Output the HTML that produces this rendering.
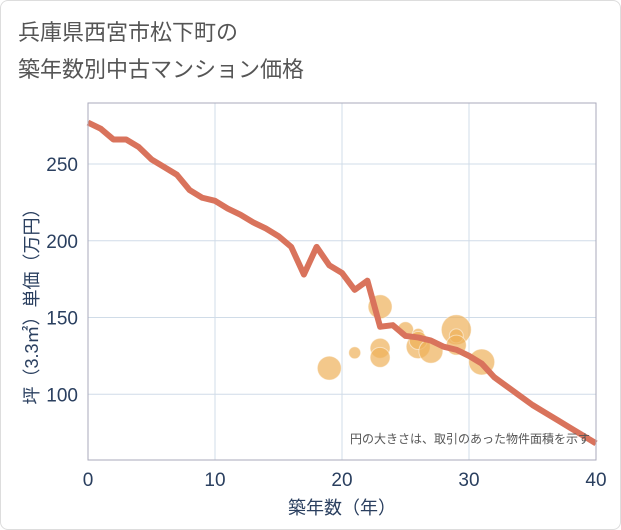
<!DOCTYPE html>
<html><head><meta charset="utf-8"><style>
body{margin:0;background:#fff;}
.card{position:absolute;left:0;top:0;width:619px;height:528px;border:1px solid #ddd;border-radius:8px;background:#fff;}
svg{position:absolute;left:0;top:0;font-family:"Liberation Sans","Noto Sans CJK JP",sans-serif;}
</style></head><body>
<div class="card"></div>
<svg id="c" width="621" height="530">
<text x="18" y="40" font-size="22" fill="#555">兵庫県西宮市松下町の</text>
<text x="18" y="77" font-size="22" fill="#555">築年数別中古マンション価格</text>
<g id="grid"></g><g id="bub"></g><g id="ln"></g><g id="ax"></g>
<rect x="88" y="103" width="508" height="357" fill="none" stroke="#aab" stroke-width="1"/>
<text x="590" y="443" font-size="12" fill="#555" text-anchor="end">円の大きさは、取引のあった物件面積を示す</text>
<text x="342" y="514" font-size="18" fill="#2a3f5f" text-anchor="middle">築年数（年）</text>
<text transform="translate(38,302) rotate(-90)" font-size="18" fill="#2a3f5f" text-anchor="middle">坪（3.3㎡）単価（万円）</text>
</svg>
<script>
const xTicks=[0,10,20,30,40];
const yTicks=[100,150,200,250];
const lineYears=[0,1,2,3,4,5,6,7,8,9,10,11,12,13,14,15,16,17,18,19,20,21,22,23,24,25,26,27,28,29,30,31,32,33,34,35,36,37,38,39,40];
const linePrices=[277,273,266,266,261,253,248,243,233,228,226,221,217,212,208,203,196,178,196,184,179,168,174,144,145,138,137,135,131,129,125,120,111,105,99,93,88,83,78,73,68];
const bubbleYears=[19,21,23,23,23,25,26,26,26,27,29,29,29,31];
const bubblePrices=[117,127,157,130,124,142,139,131,135,128,142,138,132,121];
const bubbleSizes=[12,6,12,10,10,8,6,12,9,12,15,7,10,13];
const X=v=>88+v*12.7, Y=v=>164+(250-v)*1.535;
const NS='http://www.w3.org/2000/svg';
function mk(t,a,p){const e=document.createElementNS(NS,t);for(const k in a)e.setAttribute(k,a[k]);p.appendChild(e);return e;}
const g=document.getElementById('grid'),ax=document.getElementById('ax');
xTicks.forEach(t=>{
 const l=mk('line',{x1:X(t),x2:X(t),y1:103,y2:460,stroke:'#d0dce8','stroke-width':1},g);
 
 
 const tx=mk('text',{x:X(t),y:486,'font-size':19,fill:'#2a3f5f','text-anchor':'middle'},ax);tx.textContent=t;
 
 
});
yTicks.forEach(t=>{
 const l=mk('line',{x1:88,x2:596,y1:Y(t),y2:Y(t),stroke:'#d0dce8','stroke-width':1},g);
 
 
 const tx=mk('text',{x:78,y:Y(t)+7,'font-size':19,fill:'#2a3f5f','text-anchor':'end'},ax);tx.textContent=t;
 
 
});
const b=document.getElementById('bub');
bubbleYears.forEach((yr,i)=>{
 const c=mk('circle',{cx:X(yr),cy:Y(bubblePrices[i]),r:bubbleSizes[i],fill:'#eeb05a','fill-opacity':0.7,stroke:'#fff','stroke-opacity':0.5},b);
 
 
});
const p=mk('polyline',{points:lineYears.map((yr,i)=>X(yr)+','+Y(linePrices[i])).join(' '),fill:'none',stroke:'#d9735c','stroke-width':6,'stroke-linejoin':'round'},document.getElementById('ln'));


</script>
</body></html>
